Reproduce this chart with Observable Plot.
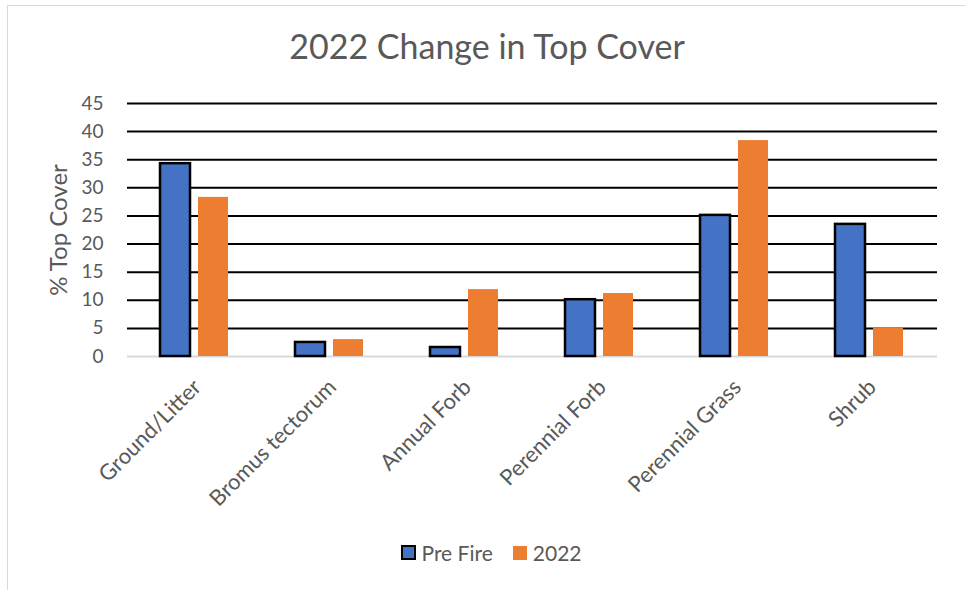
<!DOCTYPE html>
<html>
<head>
<meta charset="utf-8">
<script src="https://cdn.jsdelivr.net/npm/d3@7"></script>
<script src="https://cdn.jsdelivr.net/npm/@observablehq/plot@0.6"></script>
<style>
  html, body { margin: 0; padding: 0; background: white; }
  #wrap { position: relative; width: 965px; height: 590px; overflow: hidden; font-family: Lato, sans-serif; color: #595959; }
  #frame { position: absolute; left: 7px; top: 5px; right: -2px; bottom: -2px; border-left: 1.5px solid #d9d9d9; border-top: 1.5px solid #d9d9d9; }
  #title { position: absolute; left: 0; width: 974px; top: 25px; text-align: center; font-size: 34px; font-weight: 400; }
  #ylabel { position: absolute; left: 57px; top: 230px; transform: translate(-50%, -50%) rotate(-90deg); font-size: 24px; white-space: nowrap; }
  #legend { position: absolute; left: 0; width: 982px; top: 540px; display: flex; justify-content: center; align-items: center; font-size: 21px; }
  .sw { display: inline-block; width: 14px; height: 14px; margin-right: 6px; }
  .item { display: inline-flex; align-items: center; margin: 0 10px; }
  .layer { position: absolute; left: 0; top: 0; }
</style>
</head>
<body>
<div id="wrap">
  <div id="frame"></div>
  <div id="grid" class="layer"></div>
  <div id="bars" class="layer"></div>
  <div id="title">2022 Change in Top Cover</div>
  <div id="ylabel">% Top Cover</div>
  <div id="legend"></div>
</div>
<script>
const categories = ["Ground/Litter", "Bromus tectorum", "Annual Forb", "Perennial Forb", "Perennial Grass", "Shrub"];
const seriesNames = ["Pre Fire", "2022"];
const preFire = [34.3, 2.5, 1.6, 10.1, 25.1, 23.5];
const cover2022 = [28.3, 3.0, 11.9, 11.2, 38.4, 5.1];
const yTicks = [0, 5, 10, 15, 20, 25, 30, 35, 40, 45];
const colors = ["#4472C4", "#ED7D31"];

const data = categories.flatMap((c, i) => [
  {category: c, series: seriesNames[0], value: preFire[i]},
  {category: c, series: seriesNames[1], value: cover2022[i]}
]);

const common = {
  width: 965,
  height: 530,
  marginTop: 103,
  marginBottom: 174,
  marginLeft: 127,
  marginRight: 28,
  style: {fontFamily: "Lato, sans-serif", fontSize: "17px", color: "#595959", background: "transparent", overflow: "visible"},
  y: {domain: [0, 45], label: null}
};

// Layer 1: gridlines, baseline and y axis across the whole plot area
const grid = Plot.plot({
  ...common,
  marks: [
    Plot.ruleY(yTicks.filter(d => d > 0), {stroke: "black", strokeWidth: 2}),
    Plot.ruleY([0], {stroke: "#d9d9d9", strokeWidth: 2}),
    Plot.axisY(yTicks, {tickSize: 0, tickPadding: 24, label: null, fontSize: 19, fill: "#595959"})
  ]
});
document.getElementById("grid").appendChild(grid);

// Layer 2: grouped bars and category axis
const bars = Plot.plot({
  ...common,
  fx: {domain: categories, paddingInner: 0.48, paddingOuter: 0.24, label: null},
  x: {domain: seriesNames, paddingInner: 0.2, paddingOuter: 0, axis: null},
  color: {domain: seriesNames, range: colors},
  marks: [
    Plot.barY(data, {filter: d => d.series === seriesNames[1], fx: "category", x: "series", y: "value", fill: "series"}),
    Plot.barY(data, {filter: d => d.series === seriesNames[0], fx: "category", x: "series", y: "value", fill: "series", stroke: "black", strokeWidth: 2.5}),
    Plot.axisY({ticks: [], label: null}),
    Plot.axisFx({anchor: "bottom", tickRotate: -45, tickSize: 0, tickPadding: 27, dx: 3, label: null, fontSize: 22, fill: "#595959"})
  ]
});
document.getElementById("bars").appendChild(bars);

const legend = document.getElementById("legend");
seriesNames.forEach((s, i) => {
  const item = document.createElement("span");
  item.className = "item";
  const sw = document.createElement("span");
  sw.className = "sw";
  sw.style.background = colors[i];
  if (i === 0) { sw.style.border = "2px solid black"; sw.style.width = "11px"; sw.style.height = "11px"; }
  item.appendChild(sw);
  item.appendChild(document.createTextNode(s));
  legend.appendChild(item);
});
</script>
</body>
</html>
